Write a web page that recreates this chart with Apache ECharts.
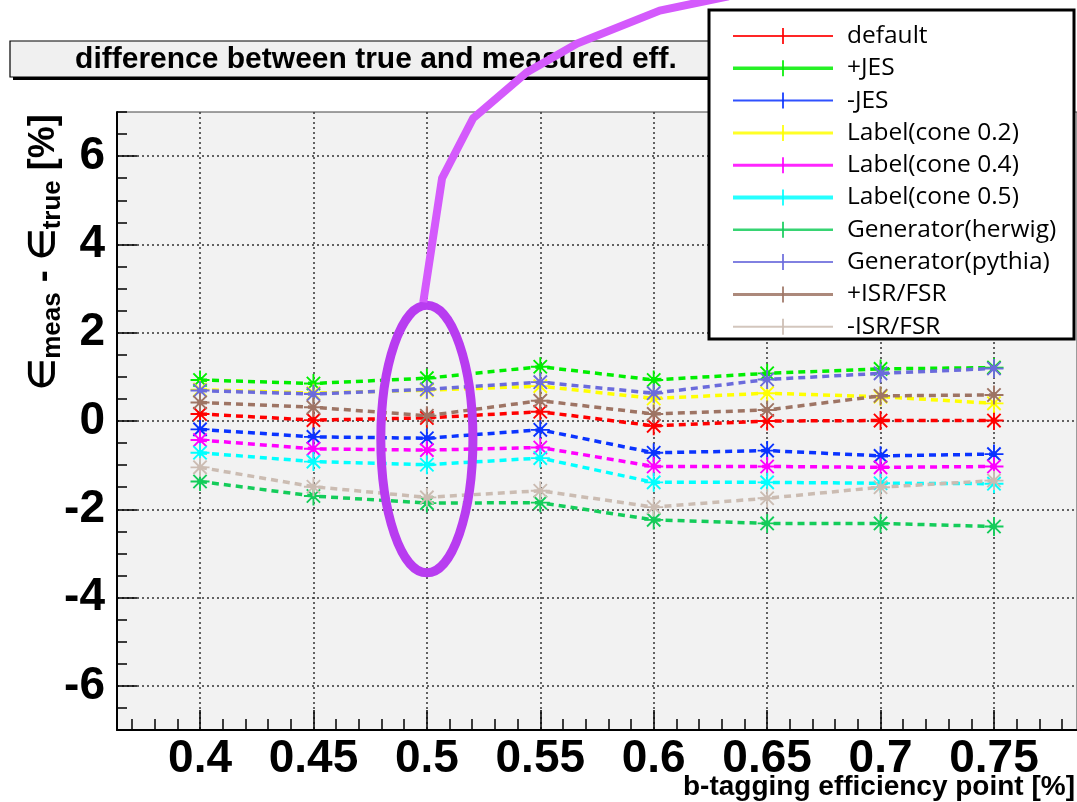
<!DOCTYPE html>
<html>
<head>
<meta charset="utf-8">
<script src="https://cdn.jsdelivr.net/npm/echarts@6/dist/echarts.min.js"></script>
<style>
  html, body { margin: 0; padding: 0; background: #ffffff; }
  #chart { width: 1077px; height: 802px; }
</style>
</head>
<body>
<div id="chart"></div>
<script>
// b-tagging efficiency working points (x) and tick positions
const xPoints = [0.4, 0.45, 0.5, 0.55, 0.6, 0.65, 0.7, 0.75];
const xTicks = [0.4, 0.45, 0.5, 0.55, 0.6, 0.65, 0.7, 0.75];
const xTickLabels = ['0.4', '0.45', '0.5', '0.55', '0.6', '0.65', '0.7', '0.75'];
const yTicks = [-6, -4, -2, 0, 2, 4, 6];
const yTickLabels = ['-6', '-4', '-2', '0', '2', '4', '6'];

// eps_meas - eps_true [%] for each systematic variation
const vDefault = [0.16, 0.02, 0.07, 0.21, -0.11, 0.00, 0.01, 0.01];
const vJesUp = [0.93, 0.85, 0.97, 1.23, 0.93, 1.08, 1.18, 1.21];
const vJesDown = [-0.19, -0.36, -0.39, -0.20, -0.72, -0.67, -0.79, -0.75];
const vCone02 = [0.71, 0.63, 0.70, 0.79, 0.51, 0.63, 0.55, 0.40];
const vCone04 = [-0.43, -0.63, -0.66, -0.60, -1.03, -1.03, -1.05, -1.03];
const vCone05 = [-0.72, -0.92, -0.99, -0.84, -1.39, -1.39, -1.41, -1.42];
const vHerwig = [-1.37, -1.70, -1.86, -1.85, -2.24, -2.32, -2.32, -2.39];
const vPythia = [0.69, 0.61, 0.72, 0.88, 0.63, 0.94, 1.08, 1.19];
const vIsrUp = [0.42, 0.31, 0.12, 0.46, 0.16, 0.25, 0.57, 0.59];
const vIsrDown = [-1.05, -1.49, -1.73, -1.58, -1.95, -1.75, -1.50, -1.35];

const seriesNames = ['default', '+JES', '-JES', 'Label(cone 0.2)', 'Label(cone 0.4)',
  'Label(cone 0.5)', 'Generator(herwig)', 'Generator(pythia)', '+ISR/FSR', '-ISR/FSR'];
const seriesValues = [vDefault, vJesUp, vJesDown, vCone02, vCone04, vCone05,
  vHerwig, vPythia, vIsrUp, vIsrDown];
const seriesColors = ['#ff0000', '#00ee00', '#0a33ff', '#ffff00', '#ff00ff', '#00ffff',
  '#14cc5a', '#6b6bdc', '#9e7464', '#cbbcb2'];
const legendLineWidths = [2, 3.5, 2, 3, 3, 4, 2.5, 2, 3, 2];

// axis ranges
const xMin = 0.3634, xMax = 0.7866;
const yMin = -7, yMax = 7;

// minor tick positions
const xMinor = [];
for (let i = 37; i <= 78; i++) xMinor.push(+(i / 100).toFixed(2));
const yMinor = [];
for (let i = -14; i <= 14; i++) yMinor.push(i / 2);

// highlighted region around the 0.5 working point (data units)
const ringCenter = [0.5, -0.41];
const ringHalfWidth = 0.0203;
const ringHalfHeight = 3.03;
const leaderPath = [[0.4984, 2.69], [0.5067, 5.50], [0.5204, 6.86], [0.5441, 7.90],
  [0.5662, 8.55], [0.6027, 9.30], [0.6330, 9.62]];

const starSymbol = 'path://M10,0L10,20M0,10L20,10M3,3L17,17M3,17L17,3M8,8L12,8L12,12L8,12Z';

const chart = echarts.init(document.getElementById('chart'), null, { renderer: 'canvas' });

const boldFont = 'Liberation Sans';

const series = seriesNames.map((name, i) => ({
  name: name,
  type: 'line',
  xAxisIndex: 0,
  yAxisIndex: 0,
  data: xPoints.map((x, k) => [x, seriesValues[i][k]]),
  symbol: starSymbol,
  symbolSize: 19,
  showSymbol: true,
  animation: false,
  z: 3 + i * 0.01,
  lineStyle: { color: seriesColors[i], width: 3.5, type: [7, 5] },
  itemStyle: { color: seriesColors[i], borderColor: seriesColors[i], borderWidth: 1.9 }
}));

chart.setOption({
  animation: false,
  backgroundColor: '#ffffff',
  grid: {
    left: 117, right: 0, top: 112, bottom: 72,
    containLabel: false,
    outerBoundsMode: 'none',
    show: true,
    backgroundColor: '#f2f2f2',
    borderColor: '#444444',
    borderWidth: 1
  },
  xAxis: [
    {
      type: 'value', min: xMin, max: xMax, position: 'bottom',
      axisLine: { show: true, onZero: false, lineStyle: { color: '#000', width: 2 } },
      axisTick: { show: true, inside: true, length: 20, customValues: xTicks,
        lineStyle: { color: '#000', width: 1.5 } },
      axisLabel: {
        show: true, customValues: xTicks, margin: 6,
        formatter: v => xTickLabels[xTicks.findIndex(t => Math.abs(t - v) < 1e-6)],
        color: '#000', fontFamily: boldFont, fontWeight: 'bold', fontSize: 46
      },
      splitLine: { show: true, lineStyle: { color: '#333', width: 1.5, type: [2, 3] } }
    },
    {
      type: 'value', min: xMin, max: xMax, position: 'bottom',
      axisLine: { show: false, onZero: false },
      axisTick: { show: true, inside: true, length: 11, customValues: xMinor,
        lineStyle: { color: '#000', width: 1.5 } },
      axisLabel: { show: false },
      splitLine: { show: false }
    }
  ],
  yAxis: [
    {
      type: 'value', min: yMin, max: yMax, position: 'left',
      axisLine: { show: true, onZero: false, lineStyle: { color: '#000', width: 2 } },
      axisTick: { show: true, inside: true, length: 20, customValues: yTicks,
        lineStyle: { color: '#000', width: 1.5 } },
      axisLabel: {
        show: true, customValues: yTicks, margin: 12,
        formatter: v => yTickLabels[yTicks.indexOf(Math.round(v))],
        color: '#000', fontFamily: boldFont, fontWeight: 'bold', fontSize: 46
      },
      splitLine: { show: true, lineStyle: { color: '#333', width: 1.5, type: [2, 3] } }
    },
    {
      type: 'value', min: yMin, max: yMax, position: 'left',
      axisLine: { show: false, onZero: false },
      axisTick: { show: true, inside: true, length: 10, customValues: yMinor,
        lineStyle: { color: '#000', width: 1.5 } },
      axisLabel: { show: false },
      splitLine: { show: false }
    }
  ],
  series: series
});

// overlays: title box, axis titles, legend, highlight ring
const px = p => chart.convertToPixel({ xAxisIndex: 0, yAxisIndex: 0 }, p);
const c0 = px(ringCenter);
const cx1 = px([ringCenter[0] + ringHalfWidth, ringCenter[1]]);
const cy1 = px([ringCenter[0], ringCenter[1] + ringHalfHeight]);
const leaderPts = leaderPath.map(px);

const legendX = 709, legendY = 10, legendW = 365, legendH = 329;
const legendRow0 = 36, legendRowStep = 32.3;
const legendItems = [
  { type: 'rect', z: 100, shape: { x: legendX, y: legendY, width: legendW, height: legendH },
    style: { fill: '#ffffff', stroke: '#000', lineWidth: 3 } }
];
seriesNames.forEach((name, i) => {
  const yy = legendRow0 + i * legendRowStep;
  legendItems.push(
    { type: 'line', z: 101, shape: { x1: 733, y1: yy, x2: 833, y2: yy },
      style: { stroke: seriesColors[i], lineWidth: legendLineWidths[i], opacity: 0.85 } },
    { type: 'line', z: 101, shape: { x1: 783, y1: yy - 8, x2: 783, y2: yy + 8 },
      style: { stroke: seriesColors[i], lineWidth: 2, opacity: 0.85 } },
    { type: 'text', z: 102, x: 847, y: yy,
      style: { text: name, fill: '#000', font: '24.5px "Open Sans"',
        align: 'left', verticalAlign: 'middle', textAlign: 'left', textVerticalAlign: 'middle' } }
  );
});

chart.setOption({
  graphic: [
    // title pave with drop shadow
    { type: 'rect', z: 90, shape: { x: 13, y: 44, width: 702, height: 36 }, style: { fill: '#000' } },
    { type: 'rect', z: 91, shape: { x: 10, y: 41, width: 702, height: 36 },
      style: { fill: '#f0f0f0', stroke: '#000', lineWidth: 1.2 } },
    { type: 'text', z: 92, x: 376, y: 60,
      style: { text: 'difference between true and measured eff.', fill: '#000',
        font: 'bold 30px "Liberation Sans"', align: 'center', verticalAlign: 'middle',
        textAlign: 'center', textVerticalAlign: 'middle' } },
    // x axis title
    { type: 'text', z: 92, x: 1075, y: 787,
      style: { text: 'b-tagging efficiency point [%]', fill: '#000',
        font: 'bold 28px "Liberation Sans"', align: 'right', verticalAlign: 'middle',
        textAlign: 'right', textVerticalAlign: 'middle' } },
    // y axis title
    { type: 'text', z: 92, x: 44, y: 252, rotation: Math.PI / 2,
      style: {
        text: '{e|\u2208}{s|meas}{e| - \u2208}{s|true}{e| [%]}',
        align: 'center', verticalAlign: 'middle', textAlign: 'center', textVerticalAlign: 'middle',
        rich: {
          e: { fontFamily: 'Liberation Sans', fontWeight: 'bold', fontSize: 36, fill: '#000',
               lineHeight: 44, verticalAlign: 'middle' },
          s: { fontFamily: 'Liberation Sans', fontWeight: 'bold', fontSize: 26, fill: '#000',
               lineHeight: 30, verticalAlign: 'bottom' }
        }
      } }
  ].concat(legendItems).concat([
    // highlight ring and its leader line
    { type: 'ellipse', z: 120,
      shape: { cx: c0[0], cy: c0[1], rx: Math.abs(cx1[0] - c0[0]), ry: Math.abs(c0[1] - cy1[1]) },
      style: { fill: 'none', stroke: '#b83cf0', lineWidth: 9 } },
    { type: 'polyline', z: 120, shape: { points: leaderPts },
      style: { fill: 'none', stroke: '#d45afc', lineWidth: 8, lineJoin: 'miter' } }
  ])
});
</script>
</body>
</html>
